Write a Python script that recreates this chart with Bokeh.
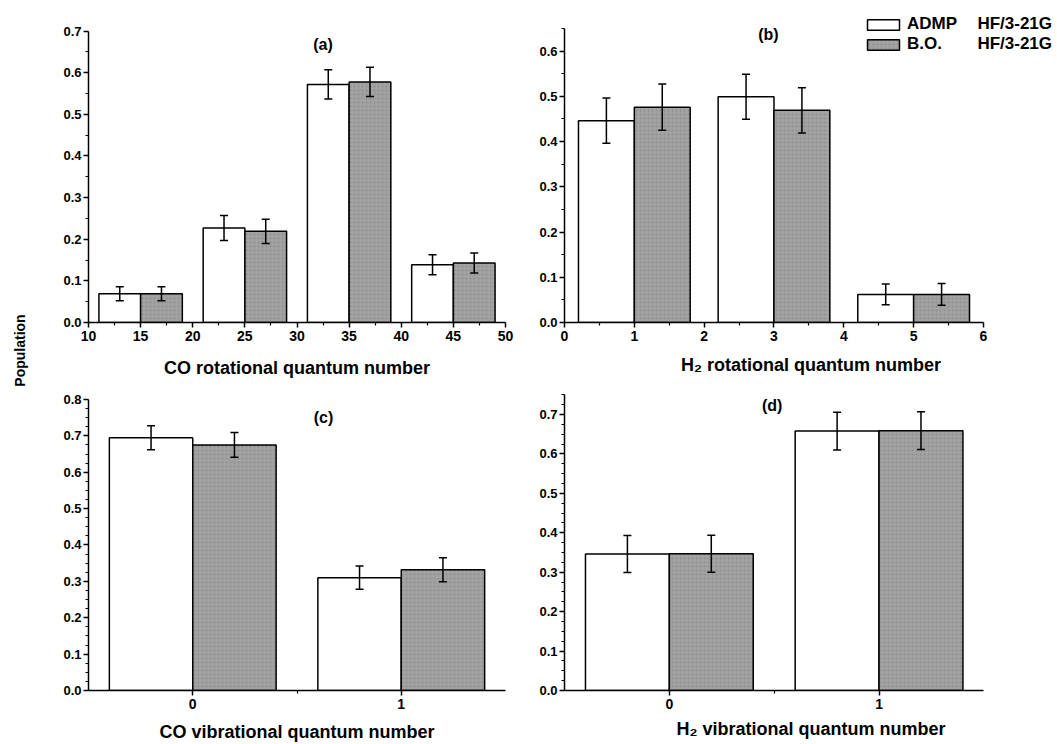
import math
from bokeh.plotting import figure
from bokeh.models import (Range1d, FixedTicker, PrintfTickFormatter, Whisker, TeeHead,
                          ColumnDataSource, Label, Legend, LegendItem)
from bokeh.layouts import row, column
from bokeh.embed import file_html
from bokeh.resources import INLINE

FONT = "Liberation Sans"
GRAY = "#a2a2a2"

# ---------------- data ----------------
# (a) CO rotational quantum number distribution
co_rot_j = [15, 25, 35, 45]
co_rot_admp = [0.069, 0.227, 0.572, 0.139]
co_rot_admp_err = [0.017, 0.030, 0.035, 0.024]
co_rot_bo = [0.069, 0.219, 0.578, 0.143]
co_rot_bo_err = [0.017, 0.029, 0.035, 0.024]

# (b) H2 rotational quantum number distribution
h2_rot_j = [1, 3, 5]
h2_rot_admp = [0.446, 0.499, 0.062]
h2_rot_admp_err = [0.050, 0.050, 0.023]
h2_rot_bo = [0.476, 0.469, 0.062]
h2_rot_bo_err = [0.051, 0.050, 0.024]

# (c) CO vibrational quantum number distribution
co_vib_v = [0, 1]
co_vib_admp = [0.695, 0.310]
co_vib_admp_err = [0.033, 0.032]
co_vib_bo = [0.675, 0.332]
co_vib_bo_err = [0.034, 0.033]

# (d) H2 vibrational quantum number distribution
h2_vib_v = [0, 1]
h2_vib_admp = [0.346, 0.658]
h2_vib_admp_err = [0.047, 0.048]
h2_vib_bo = [0.347, 0.659]
h2_vib_bo_err = [0.047, 0.048]

series_labels = ["ADMP", "B.O."]
method_label = "HF/3-21G"
panel_tags = ["(a)", "(b)", "(c)", "(d)"]
x_titles = ["CO rotational quantum number",
            "H\u2082 rotational quantum number",
            "CO vibrational quantum number",
            "H\u2082 vibrational quantum number"]
y_title = "Population"


def make_panel(width, height, borders, xr, yr, xticks, xminor, yticks, yminor,
               xtitle, title_standoff, xbounds, ybounds):
    l, r, t, b = borders
    p = figure(width=width, height=height, x_range=Range1d(*xr), y_range=Range1d(*yr),
               output_backend="svg", toolbar_location=None,
               min_border_left=l, min_border_right=r, min_border_top=t, min_border_bottom=b)
    p.outline_line_color = None
    p.xgrid.visible = False
    p.ygrid.visible = False
    p.background_fill_color = "white"
    p.border_fill_color = "white"
    p.xaxis.ticker = FixedTicker(ticks=xticks, minor_ticks=xminor)
    p.yaxis.ticker = FixedTicker(ticks=yticks, minor_ticks=yminor)
    p.xaxis.formatter = PrintfTickFormatter(format="%d")
    p.yaxis.formatter = PrintfTickFormatter(format="%.1f")
    p.xaxis.bounds = xbounds
    p.yaxis.bounds = ybounds
    for ax in (p.xaxis[0], p.yaxis[0]):
        ax.axis_line_width = 1.5
        ax.axis_line_color = "black"
        ax.major_tick_line_width = 1.5
        ax.minor_tick_line_width = 1.2
        ax.major_tick_in = 0
        ax.major_tick_out = 5
        ax.minor_tick_in = 0
        ax.minor_tick_out = 3
        ax.major_label_text_font = FONT
        ax.major_label_text_font_style = "bold"
        ax.major_label_text_color = "black"
    p.xaxis.major_label_text_font_size = "14px"
    p.xaxis.major_label_standoff = 3
    p.yaxis.major_label_text_font_size = "13px"
    p.yaxis.major_label_standoff = 2
    p.xaxis.axis_label = xtitle
    p.xaxis.axis_label_text_font = FONT
    p.xaxis.axis_label_text_font_style = "bold"
    p.xaxis.axis_label_text_font_size = "18px"
    p.xaxis.axis_label_text_color = "black"
    p.xaxis.axis_label_standoff = title_standoff
    return p


def add_bars(p, x, admp, admp_err, bo, bo_err, w):
    xa = [xi - w / 2 for xi in x]
    xb = [xi + w / 2 for xi in x]
    ra = p.vbar(x=xa, top=admp, bottom=0, width=w, fill_color="white",
                line_color="black", line_width=1.5)
    rb = p.vbar(x=xb, top=bo, bottom=0, width=w, fill_color=GRAY,
                line_color="black", line_width=1.5,
                hatch_pattern="dot", hatch_scale=4, hatch_color="#777777",
                hatch_alpha=0.5, hatch_weight=1)
    for xs, vals, errs in ((xa, admp, admp_err), (xb, bo, bo_err)):
        src = ColumnDataSource(dict(base=xs,
                                    upper=[v + e for v, e in zip(vals, errs)],
                                    lower=[v - e for v, e in zip(vals, errs)]))
        wk = Whisker(source=src, base="base", upper="upper", lower="lower",
                     line_width=1.5, line_color="black", level="overlay",
                     upper_head=TeeHead(size=8, line_width=1.5, line_color="black"),
                     lower_head=TeeHead(size=8, line_width=1.5, line_color="black"))
        p.add_layout(wk)
    return ra, rb


def add_text(p, x, y, text, size, align="center"):
    p.add_layout(Label(x=x, y=y, text=text, text_font=FONT, text_font_style="bold",
                       text_font_size=size, text_align=align, text_baseline="middle",
                       text_color="black"))


def frange(a, b, s):
    n = int(round((b - a) / s))
    return [round(a + i * s, 4) for i in range(n + 1)]


# Frames in a row share top/bottom borders, so each frame is made a bit taller
# than its data range and the axis lines are bounded to the real extent.

# ---------------- panel (a) ----------------
pa = make_panel(490, 380, (48, 25, 5, 57), (10, 50), (0, 0.7615),
                frange(10, 50, 5), frange(12.5, 47.5, 5),
                frange(0, 0.7, 0.1), frange(0.05, 0.65, 0.1),
                x_titles[0], 14, (10, 50), (0, 0.7))
add_bars(pa, co_rot_j, co_rot_admp, co_rot_admp_err, co_rot_bo, co_rot_bo_err, 4)
add_text(pa, 32.5, 0.669, panel_tags[0], "16px")

# ---------------- panel (b) ----------------
pb = make_panel(527, 380, (34, 0, 5, 57), (0, 7.06), (0, 0.7007),
                frange(0, 6, 1), frange(0.5, 5.5, 1),
                frange(0, 0.6, 0.1), frange(0.05, 0.65, 0.1),
                x_titles[1], 11, (0, 6), (0, 0.65))
rba, rbb = add_bars(pb, h2_rot_j, h2_rot_admp, h2_rot_admp_err, h2_rot_bo, h2_rot_bo_err, 0.8)
add_text(pb, 2.92, 0.637, panel_tags[1], "16px")
legend = Legend(items=[LegendItem(label=series_labels[0], renderers=[rba]),
                       LegendItem(label=series_labels[1], renderers=[rbb])],
                location=(299, 268))
legend.padding = 0
legend.margin = 0
legend.border_line_color = None
legend.background_fill_alpha = 0
legend.glyph_width = 40
legend.glyph_height = 13
legend.label_height = 13
legend.label_standoff = 4
legend.spacing = 0
legend.label_text_font = FONT
legend.label_text_font_style = "bold"
legend.label_text_font_size = "17px"
legend.label_text_color = "black"
pb.add_layout(legend)
add_text(pb, 5.913, 0.660, method_label, "17px", align="left")
add_text(pb, 5.913, 0.616, method_label, "17px", align="left")

# ---------------- panel (c) ----------------
pc = make_panel(490, 364, (48, 25, 10, 53), (-0.5, 1.5), (0, 0.8247),
                [0, 1], [0.5],
                frange(0, 0.8, 0.1),
                [m for m in frange(0.025, 0.775, 0.025) if round(m * 40) % 4 != 0],
                x_titles[2], 10, (-0.5, 1.5), (0, 0.8))
add_bars(pc, co_vib_v, co_vib_admp, co_vib_admp_err, co_vib_bo, co_vib_bo_err, 0.4)
add_text(pc, 0.627, 0.75, panel_tags[2], "16px")

# ---------------- panel (d) ----------------
pd_ = make_panel(527, 364, (34, 0, 10, 53), (-0.5, 1.851), (0, 0.7609),
                 [0, 1], [0.5],
                 frange(0, 0.7, 0.1),
                 [m for m in frange(0.025, 0.75, 0.025) if round(m * 40) % 4 != 0],
                 x_titles[3], 7, (-0.5, 1.5), (0, 0.75))
add_bars(pd_, h2_vib_v, h2_vib_admp, h2_vib_admp_err, h2_vib_bo, h2_vib_bo_err, 0.4)
add_text(pd_, 0.49, 0.723, panel_tags[3], "16px")

# ---------------- shared y title strip ----------------
ps = figure(width=40, height=744, x_range=Range1d(0, 40), y_range=Range1d(0, 744),
            output_backend="svg", toolbar_location=None, min_border=0)
ps.axis.visible = False
ps.grid.visible = False
ps.outline_line_color = None
ps.add_layout(Label(x=19, y=394, text=y_title, angle=math.pi / 2, text_font=FONT,
                    text_font_style="bold", text_font_size="14px", text_align="center",
                    text_baseline="middle", text_color="black"))

layout = row(ps, column(row(pa, pb), row(pc, pd_)))
open("out.html", "w").write(file_html(layout, INLINE))
